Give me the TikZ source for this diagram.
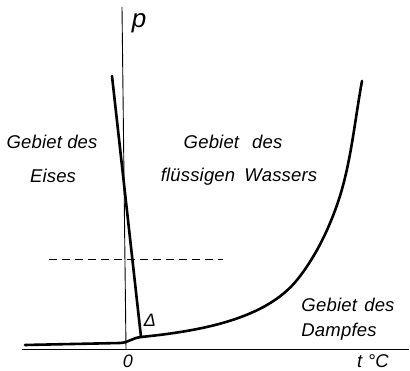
\documentclass[tikz,border=0pt]{standalone}
\usepackage{fontspec}
\newfontfamily\lab{Liberation Sans}[LetterSpace=1]
\newfontfamily\labn{Liberation Sans}
\begin{document}
\begin{tikzpicture}[x=1pt,y=-1pt,
  lbl/.style={font=\lab\itshape\fontsize{18.5}{18.5}\selectfont, inner sep=0pt, anchor=base},
  sym/.style={font=\labn\itshape\fontsize{18}{18}\selectfont, inner sep=0pt, anchor=base},
  axis/.style={line width=0.9pt},
  phase/.style={line width=2.6pt, line cap=round, line join=round}]
\useasboundingbox (0,0) rectangle (410,371);
% axes
\coordinate (ytop) at (122,7);
\coordinate (ybot) at (126,349);
\coordinate (xl) at (22,349);
\coordinate (xr) at (409,349);
\draw[axis] (ytop) -- (ybot);
\draw[axis] (xl) -- (xr);
% dashed line
\coordinate (dl) at (49,259);
\coordinate (dr) at (223,259);
\draw[line width=0.9pt, dash pattern=on 8pt off 5pt] (dl) -- (dr);
% triple point and curves
\coordinate (T) at (141,337);
\coordinate (ice) at (112,76);
\coordinate (sub) at (25,345);
\coordinate (vap) at (362,81);
\draw[phase] (ice) -- (T);
\draw[phase] (sub) -- (120,343) .. controls (129,342.5) and (132,338) .. (T);
\draw[phase] (T) .. controls (201,331) and (265.5,319) .. (297,280)
  .. controls (314.6,258.2) and (327.8,231.3) .. (337,205)
  .. controls (350.9,165.5) and (354.4,122.2) .. (vap);
% labels
\node[font=\labn\itshape\fontsize{26}{26}\selectfont, inner sep=0pt, anchor=base] (p) at (139,28) {p};
\node[sym] (d) at (150,327) {Δ};
\node[sym] (o) at (128,368) {0};
\node[lbl] (tc) at (373,368) {t\hspace{0.3em}°C};
\node[lbl] (e1) at (52,149) {Gebiet des};
\node[lbl] (e2) at (53,183) {Eises};
\node[lbl] (w1) at (233,149) {Gebiet\hspace{0.7em}des};
\node[lbl] (w2) at (239,182) {flüssigen\hspace{0.5em}Wassers};
\node[lbl] (v1) at (348,312) {Gebiet\hspace{0.4em}des};
\node[lbl] (v2) at (339,337) {Dampfes};
\end{tikzpicture}
\end{document}
